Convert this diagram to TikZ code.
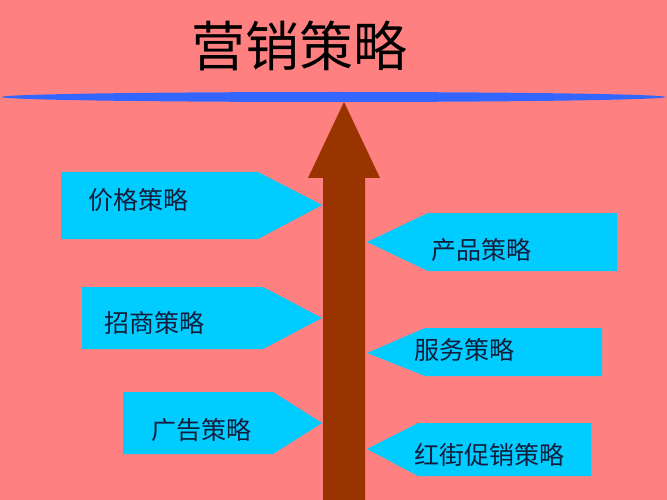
\documentclass[tikz,border=0pt]{standalone}
\usepackage{fontspec}
\newfontfamily\cjk{Noto Sans CJK SC}
\definecolor{bgpink}{RGB}{255,128,128}
\definecolor{barblue}{RGB}{51,102,255}
\definecolor{stembrown}{RGB}{153,51,0}
\definecolor{tagcyan}{RGB}{0,204,255}
\definecolor{tagink}{RGB}{20,30,60}

\begin{document}
\begin{tikzpicture}[x=1pt, y=-1pt,
    tag/.style={fill=tagcyan},
    tagtext/.style={anchor=west, inner sep=0pt, text=tagink,
      font=\cjk\fontsize{25}{25}\selectfont}]
    \useasboundingbox (0, 0) rectangle (667, 500);
    \fill[bgpink] (0, 0) rectangle (667, 500);
    % title and bar
    \node[anchor=west, inner sep=0pt, font=\cjk\fontsize{54}{54}\selectfont] (title) at (191, 46) {营销策略};
    \fill[barblue] (333.5, 97) ellipse [x radius=332pt, y radius=5pt];
    % big arrow
    \fill[stembrown] (323, 500) -- (323, 178) -- (308, 178) -- (344, 102)
      -- (380, 178) -- (365, 178) -- (365, 500) -- cycle;
    % left tags
    \fill[tag] (61, 172) -- (258, 172) -- (322, 205) -- (258, 239) -- (61, 239) -- cycle;
    \fill[tag] (82, 287) -- (263, 287) -- (322, 318) -- (263, 349) -- (82, 349) -- cycle;
    \fill[tag] (123, 392) -- (273, 392) -- (322, 423) -- (273, 454) -- (123, 454) -- cycle;
    % right tags
    \fill[tag] (367, 242) -- (428, 213) -- (617, 213) -- (617, 271) -- (428, 271) -- cycle;
    \fill[tag] (367, 353) -- (425, 328) -- (602, 328) -- (602, 376) -- (425, 376) -- cycle;
    \fill[tag] (367, 449) -- (418, 423) -- (591, 423) -- (591, 476) -- (418, 476) -- cycle;
    \node[tagtext] (price) at (88, 200) {价格策略};
    \node[tagtext] (invest) at (104, 323) {招商策略};
    \node[tagtext] (advert) at (151, 430) {广告策略};
    \node[tagtext] (product) at (431, 250) {产品策略};
    \node[tagtext] (service) at (414, 350) {服务策略};
    \node[tagtext] (promo) at (414, 455) {红街促销策略};
  \end{tikzpicture}
\end{document}
